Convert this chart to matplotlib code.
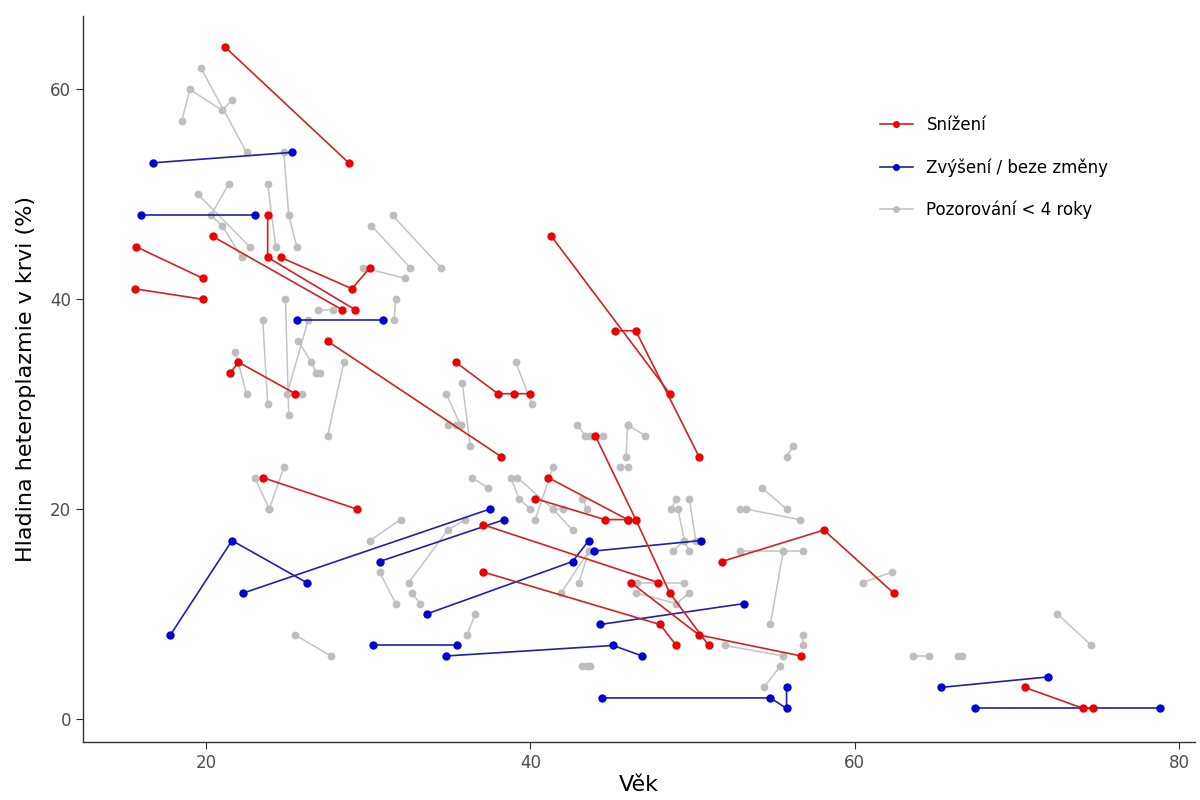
import matplotlib.pyplot as plt

# Trajektorie pacientů: věk a hladina heteroplazmie v krvi (%)
red_age = [
    [21.2, 28.8], [15.7, 19.8], [15.6, 19.8], [20.4, 28.4],
    [23.8, 23.8, 29.2], [24.6, 29.0, 30.1], [21.5, 22.0, 25.5],
    [27.5, 38.2], [23.5, 29.3], [35.4, 38.0, 39.0, 40.0],
    [41.3, 48.6], [45.2, 46.5, 50.4], [41.1, 46.0], [40.3, 44.6, 46.0],
    [44.0, 46.5, 48.6, 51.0], [37.1, 47.9], [37.1, 48.0, 49.0],
    [46.2, 50.4, 56.7], [51.8, 58.1, 62.4], [70.5, 74.1, 74.7],
]
red_lvl = [
    [64, 53], [45, 42], [41, 40], [46, 39],
    [48, 44, 39], [44, 41, 43], [33, 34, 31],
    [36, 25], [23, 20], [34, 31, 31, 31],
    [46, 31], [37, 37, 25], [23, 19], [21, 19, 19],
    [27, 19, 12, 7], [18.5, 13], [14, 9, 7],
    [13, 8, 6], [15, 18, 12], [3, 1, 1],
]

blue_age = [
    [16.7, 25.3], [16.0, 23.0], [25.6, 30.9], [17.8, 21.6, 26.2],
    [22.3, 37.5], [30.7, 38.4], [33.6, 42.6, 43.6], [43.9, 50.5],
    [44.3, 53.2], [30.3, 35.5], [34.8, 45.1, 46.9],
    [44.4, 54.8, 55.8, 55.8], [65.3, 71.9], [67.4, 78.8],
]
blue_lvl = [
    [53, 54], [48, 48], [38, 38], [8, 17, 13],
    [12, 20], [15, 19], [10, 15, 17], [16, 17],
    [9, 11], [7, 7], [6, 7, 6],
    [2, 2, 1, 3], [3, 4], [1, 1],
]

gray_age = [
    [18.5, 19.0, 21.0, 21.6], [19.7, 22.5], [24.8, 25.1, 25.6], [23.8, 24.3],
    [21.4, 20.3, 21.0, 22.2], [19.5, 22.7], [30.2, 32.6], [31.5, 34.5],
    [29.7, 32.3], [26.9, 27.8], [24.9, 25.1], [26.3, 25.0], [25.5, 25.9],
    [23.5, 23.8], [21.8, 22.5], [25.7, 26.5, 26.8, 27.0], [28.5, 27.5],
    [23.0, 23.9], [24.8, 23.9], [31.7, 31.6], [39.1, 40.1],
    [34.8, 35.7], [34.9, 35.4], [35.8, 36.3], [42.9, 43.4, 43.7, 44.5],
    [46.0, 47.1], [46.0, 45.9], [45.5, 46.0], [36.4, 37.4],
    [38.8, 39.3, 40.0], [39.2, 41.4, 42.6], [41.4, 40.3], [42.0, 41.4],
    [43.2, 43.5], [30.1, 32.0], [36.0, 34.9, 32.5], [30.7, 31.7],
    [32.7, 33.2], [36.6, 36.1], [41.9, 43.6], [43.0, 43.6],
    [43.2, 43.5, 43.7], [46.6, 49.5], [46.5, 49.0, 49.8],
    [49.0, 48.7], [49.1, 49.5, 48.8], [49.8, 50.2], [49.5, 49.8],
    [52.9, 53.3, 56.6], [54.3, 55.8], [56.2, 55.8],
    [52.9, 55.6, 56.8], [55.6, 54.8], [60.5, 62.3], [52.0, 55.6],
    [56.8, 56.8], [55.4, 54.4], [63.6, 64.6], [66.4, 66.6],
    [72.5, 74.6], [25.5, 27.7],
]
gray_lvl = [
    [57, 60, 58, 59], [62, 54], [54, 48, 45], [51, 45],
    [51, 48, 47, 44], [50, 45], [47, 43], [48, 43],
    [43, 42], [39, 39], [40, 29], [38, 31], [31, 31],
    [38, 30], [35, 31], [36, 34, 33, 33], [34, 27],
    [23, 20], [24, 20], [40, 38], [34, 30],
    [31, 28], [28, 28], [32, 26], [28, 27, 27, 27],
    [28, 27], [28, 25], [24, 24], [23, 22],
    [23, 21, 20], [23, 20, 18], [24, 19], [20, 20],
    [21, 20], [17, 19], [19, 18, 13], [14, 11],
    [12, 11], [10, 8], [12, 16], [13, 16],
    [5, 5, 5], [13, 13], [12, 11, 12],
    [21, 20], [20, 17, 16], [21, 17], [17, 16],
    [20, 20, 19], [22, 20], [26, 25],
    [16, 16, 16], [16, 9], [13, 14], [7, 6],
    [8, 7], [5, 3], [6, 6], [6, 6],
    [10, 7], [8, 6],
]

fig, ax = plt.subplots(figsize=(12, 8), dpi=100)
fig.subplots_adjust(left=0.069, right=0.996, bottom=0.0725, top=0.98)

for a, l in zip(gray_age, gray_lvl):
    ax.plot(a, l, color="#c4c4c4", lw=1.1, marker="o", ms=4.6, mfc="#bebebe", mec="#bebebe", zorder=1)
for a, l in zip(blue_age, blue_lvl):
    ax.plot(a, l, color="#2020a8", lw=1.2, marker="o", ms=5, mfc="#0000d0", mec="#0000d0", zorder=2)
for a, l in zip(red_age, red_lvl):
    ax.plot(a, l, color="#d42020", lw=1.2, marker="o", ms=5, mfc="#ee0000", mec="#ee0000", zorder=3)

# legenda
ax.plot([], [], color="#d42020", lw=1.2, marker="o", ms=4, mfc="#ee0000", mec="#ee0000", label="Snížení")
ax.plot([], [], color="#2020a8", lw=1.2, marker="o", ms=4, mfc="#0000d0", mec="#0000d0", label="Zvýšení / beze změny")
ax.plot([], [], color="#c4c4c4", lw=1.2, marker="o", ms=4, mfc="#bebebe", mec="#bebebe", label="Pozorování < 4 roky")
ax.legend(loc="upper left", bbox_to_anchor=(0.703, 0.883), frameon=False, fontsize=12,
          labelspacing=1.45, handlelength=2.0, handletextpad=0.8)

ax.set_xlim(12.4, 81.0)
ax.set_ylim(-2.2, 67.0)
ax.set_xticks([20, 40, 60, 80])
ax.set_yticks([0, 20, 40, 60])
ax.spines["top"].set_visible(False)
ax.spines["right"].set_visible(False)
for s in ("left", "bottom"):
    ax.spines[s].set_color("#333333")
    ax.spines[s].set_linewidth(1.0)
ax.tick_params(labelsize=12, colors="#333333", labelcolor="#4d4d4d", length=5)
ax.set_xlabel("Věk", fontsize=16, labelpad=2)
ax.set_ylabel("Hladina heteroplazmie v krvi (%)", fontsize=16, labelpad=10)

plt.savefig("out.png", dpi=100)
